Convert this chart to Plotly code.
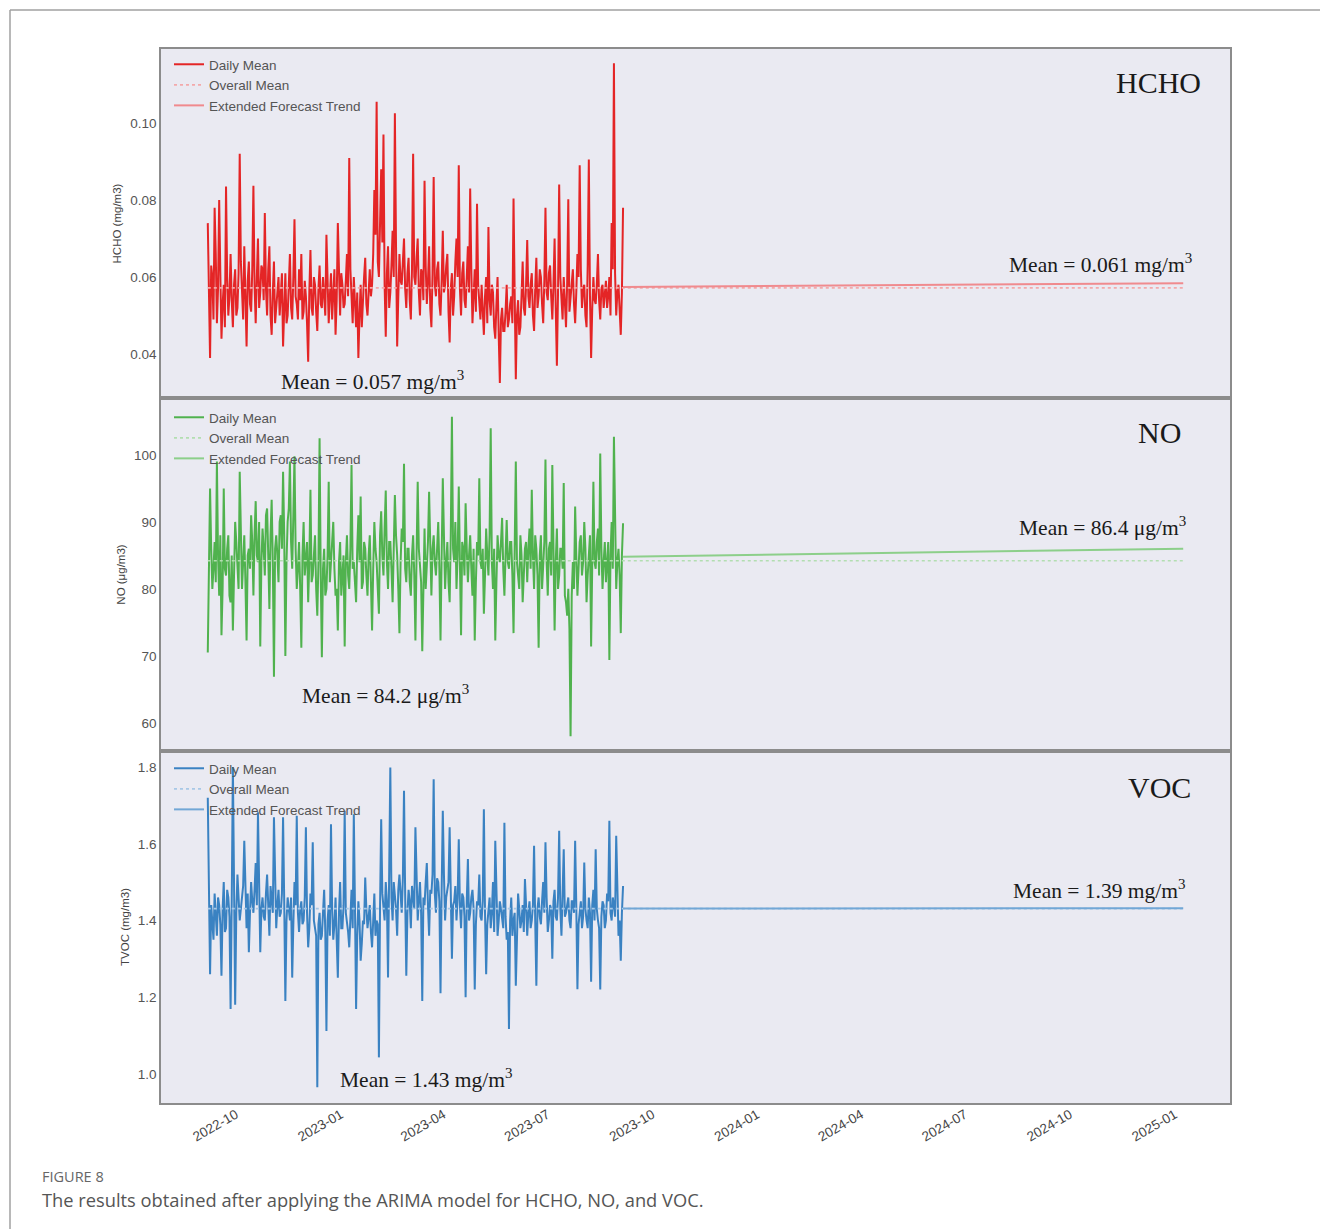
import pandas as pd
import plotly.graph_objects as go
from plotly.subplots import make_subplots

# ---------------- data ----------------
obs_start = "2022-09-02"          # first daily value
forecast_end = "2025-01-04"       # end of extended forecast

hcho = [
    0.074, 0.052, 0.039, 0.063, 0.060, 0.049, 0.078, 0.066, 0.048, 0.057, 0.080, 0.061, 0.044, 0.053, 0.058, 0.047, 0.0835, 0.060, 0.050, 0.055,
    0.066, 0.054, 0.047, 0.058, 0.062, 0.050, 0.052, 0.061, 0.092, 0.064, 0.055, 0.049, 0.068, 0.056, 0.042, 0.059, 0.064, 0.053, 0.051, 0.062,
    0.0837, 0.058, 0.048, 0.060, 0.070, 0.052, 0.056, 0.063, 0.062, 0.054, 0.0766, 0.057, 0.050, 0.062, 0.068, 0.050, 0.045, 0.056, 0.064, 0.048,
    0.052, 0.057, 0.060, 0.050, 0.055, 0.061, 0.042, 0.054, 0.061, 0.048, 0.050, 0.058, 0.066, 0.052, 0.049, 0.060, 0.075, 0.055, 0.053, 0.049,
    0.062, 0.054, 0.066, 0.049, 0.051, 0.059, 0.055, 0.048, 0.038, 0.056, 0.067, 0.052, 0.050, 0.060, 0.058, 0.051, 0.046, 0.057, 0.063, 0.053,
    0.052, 0.060, 0.056, 0.050, 0.071, 0.057, 0.048, 0.055, 0.061, 0.049, 0.056, 0.062, 0.045, 0.054, 0.074, 0.058, 0.050, 0.061, 0.058, 0.052,
    0.053, 0.059, 0.066, 0.055, 0.0909, 0.062, 0.052, 0.048, 0.060, 0.054, 0.047, 0.056, 0.039, 0.050, 0.058, 0.047, 0.055, 0.060, 0.065, 0.053,
    0.050, 0.057, 0.062, 0.055, 0.058, 0.066, 0.0826, 0.071, 0.1055, 0.064, 0.060, 0.074, 0.088, 0.069, 0.097, 0.058, 0.0445, 0.061, 0.068, 0.052,
    0.056, 0.063, 0.072, 0.060, 0.1025, 0.068, 0.042, 0.055, 0.066, 0.059, 0.058, 0.064, 0.070, 0.057, 0.052, 0.061, 0.065, 0.054, 0.049, 0.062,
    0.092, 0.060, 0.058, 0.065, 0.070, 0.056, 0.050, 0.062, 0.061, 0.054, 0.085, 0.063, 0.053, 0.059, 0.068, 0.052, 0.047, 0.061, 0.086, 0.058,
    0.055, 0.062, 0.064, 0.053, 0.050, 0.059, 0.072, 0.056, 0.058, 0.063, 0.066, 0.051, 0.043, 0.057, 0.061, 0.050, 0.055, 0.064, 0.070, 0.060,
    0.089, 0.057, 0.050, 0.061, 0.064, 0.054, 0.052, 0.060, 0.068, 0.056, 0.083, 0.062, 0.048, 0.055, 0.062, 0.051, 0.079, 0.058, 0.053, 0.049,
    0.058, 0.052, 0.045, 0.055, 0.060, 0.048, 0.073, 0.054, 0.050, 0.058, 0.056, 0.047, 0.044, 0.053, 0.060, 0.045, 0.0325, 0.049, 0.052, 0.046,
    0.046, 0.051, 0.058, 0.047, 0.049, 0.053, 0.055, 0.048, 0.0804, 0.056, 0.0335, 0.050, 0.054, 0.045, 0.047, 0.055, 0.064, 0.052, 0.050, 0.058,
    0.0696, 0.055, 0.052, 0.058, 0.061, 0.050, 0.046, 0.057, 0.065, 0.052, 0.055, 0.062, 0.060, 0.053, 0.048, 0.059, 0.078, 0.056, 0.054, 0.061,
    0.063, 0.055, 0.049, 0.058, 0.070, 0.052, 0.037, 0.056, 0.084, 0.060, 0.053, 0.049, 0.060, 0.054, 0.047, 0.058, 0.0802, 0.051, 0.055, 0.059,
    0.062, 0.053, 0.048, 0.056, 0.066, 0.060, 0.089, 0.062, 0.052, 0.057, 0.058, 0.050, 0.047, 0.063, 0.0905, 0.055, 0.039, 0.052, 0.060, 0.054,
    0.053, 0.058, 0.066, 0.054, 0.049, 0.057, 0.058, 0.052, 0.056, 0.059, 0.052, 0.055, 0.060, 0.050, 0.074, 0.062, 0.1155, 0.061, 0.050, 0.056,
    0.058, 0.052, 0.045, 0.056, 0.078,
]

no = [
    70.5, 84, 95.0, 86, 80.0, 83, 87.0, 81, 99.0, 85, 79.0, 88, 73.1, 80, 95.0, 83, 82.0, 86, 88.0, 79,
    78.0, 85, 73.8, 82, 90.0, 87, 84.0, 80, 97.5, 89, 80.0, 84, 88.0, 81, 72.3, 85, 86.0, 83, 91.0, 87,
    79.0, 88, 93.1, 85, 84.0, 90, 71.4, 84, 89.0, 86, 82.0, 91, 92.0, 85, 77.0, 88, 93.3, 84, 66.9, 86,
    88.0, 85, 81.0, 90, 91.0, 86, 97.5, 88, 70.0, 84, 90.0, 92, 99.0, 87, 83.0, 91, 99.8, 86, 80.0, 83,
    87.0, 80, 71.2, 85, 90.0, 82, 84.0, 87, 78.0, 84, 94.8, 81, 82.0, 86, 88.0, 80, 76.0, 84, 102.5, 82,
    69.8, 83, 86.0, 79, 80.0, 85, 96.0, 81, 84.0, 86, 90.0, 83, 79.0, 80, 73.8, 84, 87.0, 79, 82.0, 85,
    71.4, 84, 88.0, 82, 80.0, 86, 98.5, 83, 84.0, 81, 78.0, 86, 91.0, 84, 93.8, 80, 81.0, 87, 86.0, 82,
    79.0, 85, 88.0, 81, 73.8, 83, 90.0, 86, 84.0, 80, 76.3, 88, 91.6, 85, 82.0, 89, 94.7, 84, 80.0, 87,
    87.0, 83, 78.0, 86, 94.0, 88, 85.0, 80, 73.4, 84, 89.0, 87, 98.7, 83, 81.0, 86, 86.0, 81, 79.0, 85,
    88.0, 82, 72.3, 85, 96.0, 86, 83.0, 81, 70.7, 84, 89.0, 80, 84.0, 87, 94.5, 83, 79.0, 86, 88.0, 84,
    82.0, 86, 90.0, 83, 72.3, 85, 96.5, 88, 80.0, 84, 87.0, 81, 78.0, 88, 105.7, 86, 84.0, 90, 80.0, 85,
    95.3, 84, 73.1, 87, 86.0, 82, 92.8, 86, 81.0, 85, 88.0, 83, 79.0, 86, 72.3, 81, 87.0, 85, 96.5, 84,
    83.0, 86, 76.3, 82, 89.0, 85, 82.0, 88, 104.0, 84, 80.0, 86, 72.3, 81, 88.0, 85, 84.0, 87, 90.6, 83,
    79.0, 85, 90.3, 84, 83.0, 87, 87.0, 82, 73.4, 86, 99.0, 84, 82.0, 80, 88.0, 85, 78.0, 83, 86.0, 87,
    81.0, 86, 89.0, 83, 94.8, 85, 80.0, 88, 86.0, 82, 71.2, 85, 88.0, 80, 83.0, 87, 99.3, 84, 79.0, 86,
    87.0, 82, 98.5, 85, 73.8, 84, 89.0, 80, 82.0, 86, 86.0, 83, 95.8, 79, 78.0, 76, 80.0, 74, 58.0, 79,
    84.0, 80, 92.3, 85, 79.0, 83, 87.0, 88, 82.0, 84, 90.0, 86, 78.0, 82, 86.0, 88, 71.4, 85, 96.0, 84,
    83.0, 87, 89.0, 82, 100.2, 86, 80.0, 84, 87.0, 81, 84.0, 87, 69.4, 85, 90.0, 83, 102.7, 86, 80.0, 84,
    86.0, 82, 73.4, 85, 89.8,
]

voc = [
    1.72, 1.38, 1.26, 1.44, 1.40, 1.35, 1.47, 1.42, 1.36, 1.46, 1.44, 1.39, 1.256, 1.43, 1.50, 1.37, 1.38, 1.48, 1.46, 1.41,
    1.169, 1.45, 1.80, 1.50, 1.18, 1.42, 1.52, 1.46, 1.40, 1.43, 1.47, 1.49, 1.608, 1.44, 1.38, 1.47, 1.317, 1.42, 1.50, 1.45,
    1.42, 1.48, 1.55, 1.44, 1.682, 1.50, 1.317, 1.43, 1.46, 1.41, 1.40, 1.47, 1.52, 1.44, 1.36, 1.49, 1.45, 1.42, 1.669, 1.46,
    1.38, 1.44, 1.48, 1.41, 1.42, 1.47, 1.669, 1.45, 1.19, 1.40, 1.46, 1.43, 1.40, 1.46, 1.251, 1.39, 1.50, 1.44, 1.673, 1.42,
    1.37, 1.43, 1.45, 1.39, 1.40, 1.46, 1.643, 1.42, 1.33, 1.38, 1.47, 1.44, 1.604, 1.40, 1.38, 1.36, 0.965, 1.39, 1.42, 1.35,
    1.36, 1.41, 1.48, 1.37, 1.112, 1.40, 1.44, 1.36, 1.651, 1.43, 1.35, 1.39, 1.46, 1.35, 1.251, 1.42, 1.50, 1.38, 1.38, 1.44,
    1.686, 1.42, 1.40, 1.37, 1.33, 1.41, 1.48, 1.38, 1.677, 1.44, 1.169, 1.36, 1.45, 1.40, 1.295, 1.34, 1.40, 1.39, 1.512, 1.43,
    1.38, 1.41, 1.44, 1.37, 1.33, 1.40, 1.47, 1.36, 1.40, 1.39, 1.043, 1.44, 1.664, 1.47, 1.42, 1.40, 1.50, 1.45, 1.251, 1.48,
    1.799, 1.46, 1.40, 1.50, 1.47, 1.43, 1.36, 1.48, 1.52, 1.45, 1.42, 1.51, 1.738, 1.47, 1.256, 1.42, 1.48, 1.45, 1.38, 1.49,
    1.46, 1.43, 1.643, 1.48, 1.40, 1.45, 1.50, 1.42, 1.190, 1.46, 1.44, 1.50, 1.55, 1.44, 1.36, 1.48, 1.47, 1.52, 1.768, 1.47,
    1.42, 1.51, 1.50, 1.45, 1.21, 1.48, 1.686, 1.52, 1.40, 1.46, 1.48, 1.50, 1.643, 1.47, 1.30, 1.44, 1.45, 1.49, 1.40, 1.46,
    1.612, 1.44, 1.38, 1.47, 1.46, 1.41, 1.20, 1.45, 1.560, 1.40, 1.42, 1.46, 1.48, 1.43, 1.22, 1.39, 1.45, 1.44, 1.52, 1.41,
    1.40, 1.45, 1.690, 1.42, 1.26, 1.39, 1.44, 1.46, 1.38, 1.42, 1.50, 1.37, 1.608, 1.44, 1.36, 1.40, 1.45, 1.43, 1.40, 1.38,
    1.655, 1.41, 1.35, 1.37, 1.117, 1.40, 1.46, 1.36, 1.40, 1.42, 1.23, 1.38, 1.47, 1.43, 1.38, 1.40, 1.44, 1.37, 1.508, 1.44,
    1.36, 1.42, 1.45, 1.38, 1.40, 1.44, 1.595, 1.40, 1.23, 1.43, 1.46, 1.41, 1.39, 1.45, 1.50, 1.42, 1.604, 1.46, 1.37, 1.40,
    1.44, 1.43, 1.30, 1.45, 1.48, 1.41, 1.40, 1.46, 1.634, 1.43, 1.36, 1.47, 1.586, 1.41, 1.42, 1.44, 1.46, 1.40, 1.38, 1.45,
    1.45, 1.42, 1.608, 1.44, 1.221, 1.39, 1.43, 1.45, 1.38, 1.41, 1.551, 1.43, 1.40, 1.38, 1.46, 1.42, 1.24, 1.44, 1.48, 1.40,
    1.586, 1.43, 1.40, 1.38, 1.22, 1.41, 1.45, 1.44, 1.38, 1.40, 1.47, 1.45, 1.660, 1.42, 1.40, 1.46, 1.44, 1.41, 1.621, 1.43,
    1.36, 1.40, 1.295, 1.42, 1.49,
]

overall_means = [0.0572, 84.2, 1.431]
forecast_start_vals = [0.0574, 84.8, 1.431]
forecast_end_vals = [0.0584, 86.0, 1.432]

panel_names = ["HCHO", "NO", "VOC"]
y_titles = ["HCHO (mg/m3)", "NO (μg/m3)", "TVOC (mg/m3)"]
obs_mean_labels = ["Mean = 0.057 mg/m<sup>3</sup>", "Mean = 84.2 μg/m<sup>3</sup>",
                   "Mean = 1.43 mg/m<sup>3</sup>"]
fc_mean_labels = ["Mean = 0.061 mg/m<sup>3</sup>", "Mean = 86.4 μg/m<sup>3</sup>",
                  "Mean = 1.39 mg/m<sup>3</sup>"]
caption_label = "FIGURE 8"
caption_text = "The results obtained after applying the ARIMA model for HCHO, NO, and VOC."

# ---------------- styling ----------------
series = [hcho, no, voc]
main_colors = ["#e42526", "#50b24e", "#3a82c2"]
fc_colors = ["#f08a8e", "#8ccf8a", "#72a7d6"]
mean_colors = ["#f3a9ab", "#b3deb1", "#a8c8e6"]
y_ranges = [[0.0286, 0.1192], [55.8, 108.5], [0.924, 1.842]]
y_ticks = [[0.04, 0.06, 0.08, 0.10], [60, 70, 80, 90, 100], [1.0, 1.2, 1.4, 1.6, 1.8]]
y_fmt = [".2f", "d", ".1f"]

W, H = 1320, 1229
L, R, T, B = 161, 1230, 49, 1103


def px(x):
    return (x - L) / (R - L)


def py(y):
    return (B - y) / (B - T)


fig = make_subplots(rows=3, cols=1, shared_xaxes=True, vertical_spacing=0,
                    row_heights=[349, 353, 352])

legend_names = ["legend", "legend2", "legend3"]
legend_tops = [49, 402, 753]

for i in range(3):
    vals = series[i]
    dates = pd.date_range(obs_start, periods=len(vals), freq="D")
    end = pd.Timestamp(forecast_end)
    fig.add_trace(go.Scatter(x=dates, y=vals, mode="lines", name="Daily Mean",
                             line=dict(color=main_colors[i], width=2),
                             legend=legend_names[i]), row=i + 1, col=1)
    fig.add_trace(go.Scatter(x=[dates[0], end], y=[overall_means[i]] * 2, mode="lines",
                             name="Overall Mean",
                             line=dict(color=mean_colors[i], width=1.6, dash="dot"),
                             legend=legend_names[i]), row=i + 1, col=1)
    fig.add_trace(go.Scatter(x=[dates[-1], end],
                             y=[forecast_start_vals[i], forecast_end_vals[i]],
                             mode="lines", name="Extended Forecast Trend",
                             line=dict(color=fc_colors[i], width=2),
                             legend=legend_names[i]), row=i + 1, col=1)

    fig.update_yaxes(row=i + 1, col=1, range=y_ranges[i], tickvals=y_ticks[i],
                     tickformat=y_fmt[i], showgrid=False, zeroline=False,
                     showline=True, mirror=True, linecolor="#8c8c8c", linewidth=1.5,
                     ticks="", tickfont=dict(family="Liberation Sans", size=13.5, color="#555"),
                     title=dict(text=y_titles[i], standoff=6,
                                font=dict(family="Liberation Sans", size=11.5, color="#444")))
    fig.update_xaxes(row=i + 1, col=1, range=["2022-07-23", "2025-02-14"],
                     showgrid=False, zeroline=False, showline=True, mirror=True,
                     linecolor="#8c8c8c", linewidth=1.5, ticks="",
                     tickformat="%Y-%m", dtick="M3", tick0="2022-10-01",
                     tickangle=-30, ticklabelshift=-5, ticklabelstandoff=-3,
                     tickfont=dict(family="Liberation Sans", size=13.5, color="#444"))

legend_cfg = dict(bgcolor="rgba(0,0,0,0)", borderwidth=0, xanchor="left", yanchor="top",
                  font=dict(family="Liberation Sans", size=13.5, color="#555"),
                  tracegroupgap=0)
layout_legends = {}
for i, name in enumerate(legend_names):
    layout_legends[name] = dict(legend_cfg, x=px(169), y=py(legend_tops[i]))

annotations = []
title_pos = [(1203, 83), (1183, 432), (1193, 787)]
obs_pos = [(279, 381), (300, 694), (338, 1078)]
fc_pos = [(1194, 263), (1188, 526), (1188, 890)]
serif = "Liberation Serif"
for i in range(3):
    annotations.append(dict(text=panel_names[i], x=px(title_pos[i][0]), y=py(title_pos[i][1]),
                            xref="paper", yref="paper", xanchor="right", yanchor="middle",
                            showarrow=False, font=dict(family=serif, size=30, color="#1a1a1a")))
    annotations.append(dict(text=obs_mean_labels[i], x=px(obs_pos[i][0]), y=py(obs_pos[i][1]),
                            xref="paper", yref="paper", xanchor="left", yanchor="middle",
                            showarrow=False, font=dict(family=serif, size=21.5, color="#1a1a1a")))
    annotations.append(dict(text=fc_mean_labels[i], x=px(fc_pos[i][0]), y=py(fc_pos[i][1]),
                            xref="paper", yref="paper", xanchor="right", yanchor="middle",
                            showarrow=False, font=dict(family=serif, size=21.5, color="#1a1a1a")))

annotations.append(dict(text=caption_label, x=px(40), y=py(1176), xref="paper", yref="paper",
                        xanchor="left", yanchor="middle", showarrow=False,
                        font=dict(family="Open Sans", size=14.5, color="#666")))
annotations.append(dict(text=caption_text, x=px(40), y=py(1199), xref="paper", yref="paper",
                        xanchor="left", yanchor="middle", showarrow=False,
                        font=dict(family="Open Sans", size=18.3, color="#555")))

shapes = [
    dict(type="line", xref="paper", yref="paper", x0=px(10), x1=px(1330), y0=py(10), y1=py(10),
         line=dict(color="#a0a0a0", width=1.5)),
    dict(type="line", xref="paper", yref="paper", x0=px(10), x1=px(10), y0=py(10), y1=py(1240),
         line=dict(color="#a0a0a0", width=1.5)),
]

fig.update_layout(width=W, height=H, margin=dict(l=L, r=W - R, t=T, b=H - B),
                  paper_bgcolor="white", plot_bgcolor="#eaeaf2",
                  annotations=annotations, shapes=shapes, showlegend=True,
                  **layout_legends)

fig.write_html("out.html", config={"displayModeBar": False},
               post_script="document.body.style.margin='0px';")
